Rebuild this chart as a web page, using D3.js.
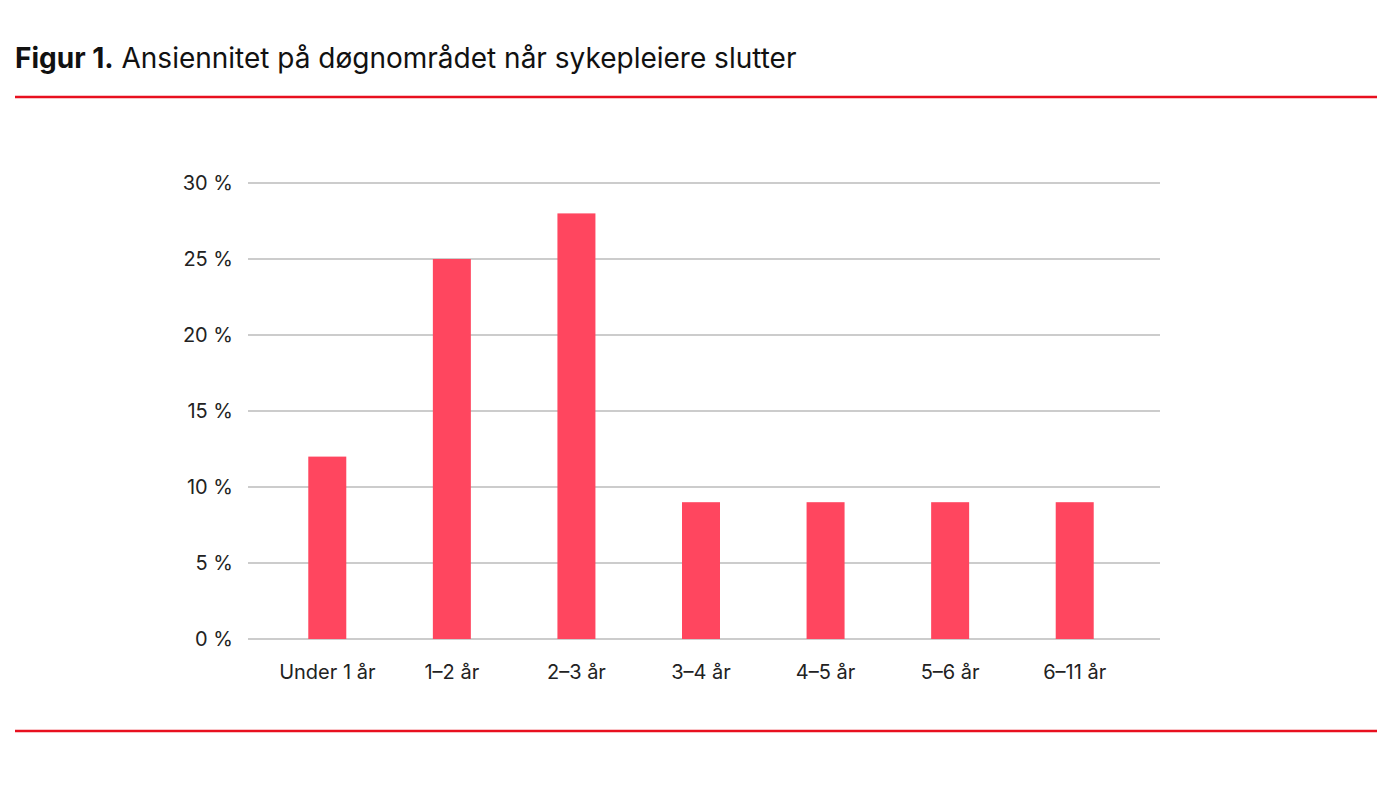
<!DOCTYPE html>
<html><head><meta charset="utf-8">
<script src="https://cdn.jsdelivr.net/npm/d3@7"></script>
<style>body{margin:0;background:#fff;font-family:Inter,"Noto Sans",sans-serif;}</style>
</head><body><svg id="c" width="1400" height="786"></svg>
<script>
const categories = ["Under 1 år","1–2 år","2–3 år","3–4 år","4–5 år","5–6 år","6–11 år"];
const values = [12,25,28,9,9,9,9];
const yTicks = [0,5,10,15,20,25,30];

const svg = d3.select("#c");
const t = svg.append("text").attr("x",15).attr("y",68).attr("font-size",28).attr("fill","#111");
t.append("tspan").attr("font-weight",700).text("Figur 1.");
t.append("tspan").text(" Ansiennitet på døgnområdet når sykepleiere slutter");
[97,731].forEach(y=>svg.append("line").attr("x1",15).attr("x2",1377).attr("y1",y).attr("y2",y).attr("stroke","#e8101f").attr("stroke-width",2.5));

const x = d3.scalePoint().domain(categories).range([265,1137]).padding(0.5);
const y = d3.scaleLinear().domain([0,30]).range([639,183]);

const g = svg.append("g");
yTicks.forEach(v=>{
  g.append("line").attr("x1",248).attr("x2",1160).attr("y1",y(v)).attr("y2",y(v)).attr("stroke","#9a9a9a").attr("stroke-width",1.2);
  g.append("text").attr("x",233).attr("y",y(v)).attr("dy","0.35em").attr("text-anchor","end").attr("font-size",20).attr("fill","#222").text(v+" %");
});
const bw = 38;
g.selectAll("rect.b").data(values).join("rect").attr("class","b")
 .attr("x",(d,i)=>x(categories[i])-bw/2).attr("width",bw)
 .attr("y",d=>y(d)).attr("height",d=>y(0)-y(d)).attr("fill","#ff465f");
g.selectAll("text.c").data(categories).join("text").attr("class","c")
 .attr("x",d=>x(d)).attr("y",679).attr("text-anchor","middle").attr("font-size",20).attr("fill","#222").text(d=>d);
</script></body></html>
